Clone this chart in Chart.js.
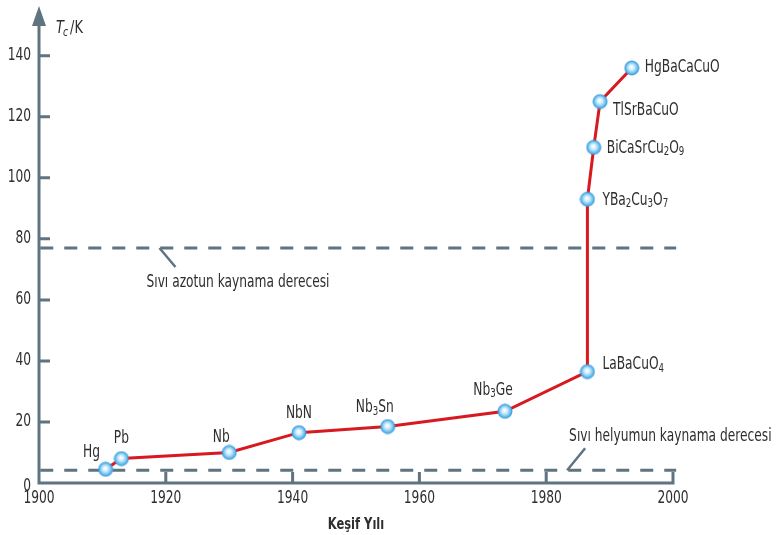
<!DOCTYPE html>
<html>
<head>
<meta charset="utf-8">
<script src="https://cdn.jsdelivr.net/npm/chart.js@4.4.1/dist/chart.umd.min.js"></script>
<style>
  html, body { margin: 0; padding: 0; background: #fff; }
  #wrap { width: 776px; height: 535px; }
</style>
</head>
<body>
<div id="wrap"><canvas id="tcChart"></canvas></div>
<script>
// values
const materials = ['Hg', 'Pb', 'Nb', 'NbN', 'Nb3Sn', 'Nb3Ge', 'LaBaCuO4', 'YBa2Cu3O7', 'BiCaSrCu2O9', 'TlSrBaCuO', 'HgBaCaCuO'];
const years = [1910.5, 1913, 1930, 1941, 1955, 1973.5, 1986.5, 1986.5, 1987.5, 1988.5, 1993.5];
const tc = [4.5, 8, 10, 16.5, 18.5, 23.5, 36.5, 93, 110, 125, 136];
const nitrogenLine = 77;
const heliumLine = 4.2;
const xTicks = [1900, 1920, 1940, 1960, 1980, 2000];
const yTicks = [0, 20, 40, 60, 80, 100, 120, 140];

const FONT = "'DejaVu Sans Condensed', 'Liberation Sans Narrow', sans-serif";
const SX = 0.8; // squeeze text horizontally, the original face is very narrow
const AXIS = '#5f7480';
const TEXT = '#2e2e2e';

// blue glossy ball used as point style
const dot = document.createElement('canvas');
dot.width = 16; dot.height = 16;
(function () {
  const c = dot.getContext('2d');
  const g = c.createRadialGradient(7.5, 7, 0.5, 8, 8, 7.5);
  g.addColorStop(0, '#ffffff');
  g.addColorStop(0.35, '#c8ebfc');
  g.addColorStop(0.8, '#5ab6ea');
  g.addColorStop(1, '#2b8fd6');
  c.beginPath();
  c.arc(8, 8, 7, 0, Math.PI * 2);
  c.fillStyle = g;
  c.fill();
  c.lineWidth = 1;
  c.strokeStyle = '#3d9ee0';
  c.stroke();
})();

// label offsets from each point: [dx, dy, align]
const labelPos = [
  [-14, -17, 'center'], [0, -20, 'center'], [-8, -15, 'center'], [0, -19, 'center'],
  [-13, -19, 'center'], [-12, -21, 'center'], [15, -7, 'left'], [15, 1, 'left'],
  [13, 1, 'left'], [13, 9, 'left'], [13, 0, 'left']
];

function drawText(ctx, str, x, y, align, font) {
  ctx.save();
  ctx.font = font;
  ctx.fillStyle = TEXT;
  ctx.textAlign = align;
  ctx.textBaseline = 'middle';
  ctx.translate(x, y);
  ctx.scale(SX, 1);
  ctx.fillText(str, 0, 0);
  ctx.restore();
}

function drawFormula(ctx, text, x, y, align) {
  const big = '17px ' + FONT, small = '12px ' + FONT;
  const parts = [];
  const re = /(\d+)|(\D+)/g;
  let m;
  while ((m = re.exec(text))) parts.push({ t: m[0], sub: !!m[1] });
  let w = 0;
  parts.forEach(p => { ctx.font = p.sub ? small : big; p.w = ctx.measureText(p.t).width * SX; w += p.w; });
  let cx = align === 'center' ? x - w / 2 : x;
  parts.forEach(p => {
    drawText(ctx, p.t, cx, p.sub ? y + 4 : y, 'left', p.sub ? small : big);
    cx += p.w;
  });
}

const axesPlugin = {
  id: 'axes',
  beforeDatasetsDraw(chart) {
    const { ctx, scales: { x, y } } = chart;
    const x0 = x.getPixelForValue(1900), y0 = y.getPixelForValue(0);
    const xEnd = x.getPixelForValue(2000);
    ctx.save();
    ctx.strokeStyle = AXIS;
    ctx.fillStyle = AXIS;
    ctx.lineWidth = 3;
    ctx.beginPath();
    ctx.moveTo(x0, y0 + 1.5);
    ctx.lineTo(x0, 22);
    ctx.moveTo(x0 - 1.5, y0);
    ctx.lineTo(xEnd + 1.5, y0);
    yTicks.slice(1).forEach(v => {
      const py = y.getPixelForValue(v);
      ctx.moveTo(x0, py);
      ctx.lineTo(x0 + 11, py);
    });
    xTicks.slice(1).forEach(v => {
      const px = x.getPixelForValue(v);
      ctx.moveTo(px, y0);
      ctx.lineTo(px, y0 - 11);
    });
    ctx.stroke();
    // arrow head
    ctx.beginPath();
    ctx.moveTo(x0, 6);
    ctx.lineTo(x0 - 7, 26);
    ctx.lineTo(x0 + 7, 26);
    ctx.closePath();
    ctx.fill();

    // leader lines for the dashed reference lines
    ctx.lineWidth = 2.5;
    ctx.beginPath();
    const ny = y.getPixelForValue(nitrogenLine);
    const nx = x.getPixelForValue(1919);
    ctx.moveTo(nx, ny);
    ctx.lineTo(nx + 16, ny + 19);
    const hy = y.getPixelForValue(heliumLine);
    const hx = x.getPixelForValue(1983.3);
    ctx.moveTo(hx, hy);
    ctx.lineTo(hx + 18, hy - 22);
    ctx.stroke();
    ctx.restore();

    const f16 = '17px ' + FONT;
    drawText(ctx, 'Sıvı azotun kaynama derecesi', nx - 13, ny + 35, 'left', f16);
    drawText(ctx, 'Sıvı helyumun kaynama derecesi', hx + 2, hy - 34, 'left', f16);

    // tick labels
    const ft = '17px ' + FONT;
    x.ticks.forEach(t => drawText(ctx, String(t.value), x.getPixelForValue(t.value), y0 + 16, 'center', ft));
    y.ticks.forEach(t => drawText(ctx, String(t.value), x0 - 8, y.getPixelForValue(t.value) + (t.value === 0 ? 4 : 0), 'right', ft));

    // axis titles
    drawText(ctx, 'Keşif Yılı', (x0 + xEnd) / 2, 525, 'center', 'bold 16px ' + FONT);
    drawText(ctx, 'T', x0 + 17, 28, 'left', 'italic 18px ' + FONT);
    ctx.font = 'italic 18px ' + FONT;
    let tx = x0 + 17 + ctx.measureText('T').width * SX;
    drawText(ctx, 'c', tx - 1, 33, 'left', 'italic 13px ' + FONT);
    ctx.font = 'italic 13px ' + FONT;
    tx += ctx.measureText('c').width * SX + 1;
    drawText(ctx, '/K', tx, 28, 'left', '18px ' + FONT);
  },
  afterDatasetsDraw(chart) {
    const { ctx, scales: { x, y } } = chart;
    materials.forEach((m, i) => {
      const p = labelPos[i];
      drawFormula(ctx, m, x.getPixelForValue(years[i]) + p[0], y.getPixelForValue(tc[i]) + p[1], p[2]);
    });
  }
};

const points = years.map((yr, i) => ({ x: yr, y: tc[i] }));

new Chart(document.getElementById('tcChart'), {
  type: 'line',
  data: {
    datasets: [{
      data: points,
      borderColor: '#d71920',
      borderWidth: 3,
      tension: 0,
      pointStyle: dot,
      pointRadius: 7,
      order: 0
    }, {
      data: [{ x: 1900.2, y: nitrogenLine }, { x: 2000.5, y: nitrogenLine }],
      borderColor: AXIS,
      borderWidth: 3,
      borderDash: [13, 11],
      pointRadius: 0,
      clip: false,
      order: 1
    }, {
      data: [{ x: 1900.2, y: heliumLine }, { x: 2000.5, y: heliumLine }],
      borderColor: AXIS,
      borderWidth: 3,
      borderDash: [13, 11],
      pointRadius: 0,
      clip: false,
      order: 1
    }]
  },
  options: {
    responsive: true,
    maintainAspectRatio: false,
    animation: false,
    layout: { padding: { top: 10, right: 103, left: 0, bottom: 0 } },
    plugins: { legend: { display: false }, tooltip: { enabled: false } },
    scales: {
      x: {
        type: 'linear',
        min: 1900,
        max: 2000,
        grid: { display: false, drawTicks: false },
        border: { display: false },
        afterBuildTicks: s => { s.ticks = xTicks.map(v => ({ value: v })); },
        afterFit: s => { s.height = 52; },
        ticks: { display: false }
      },
      y: {
        min: 0,
        max: 155,
        grid: { display: false, drawTicks: false },
        border: { display: false },
        afterBuildTicks: s => { s.ticks = yTicks.map(v => ({ value: v })); },
        afterFit: s => { s.width = 39; },
        ticks: { display: false }
      }
    }
  },
  plugins: [axesPlugin]
});
</script>
</body>
</html>
